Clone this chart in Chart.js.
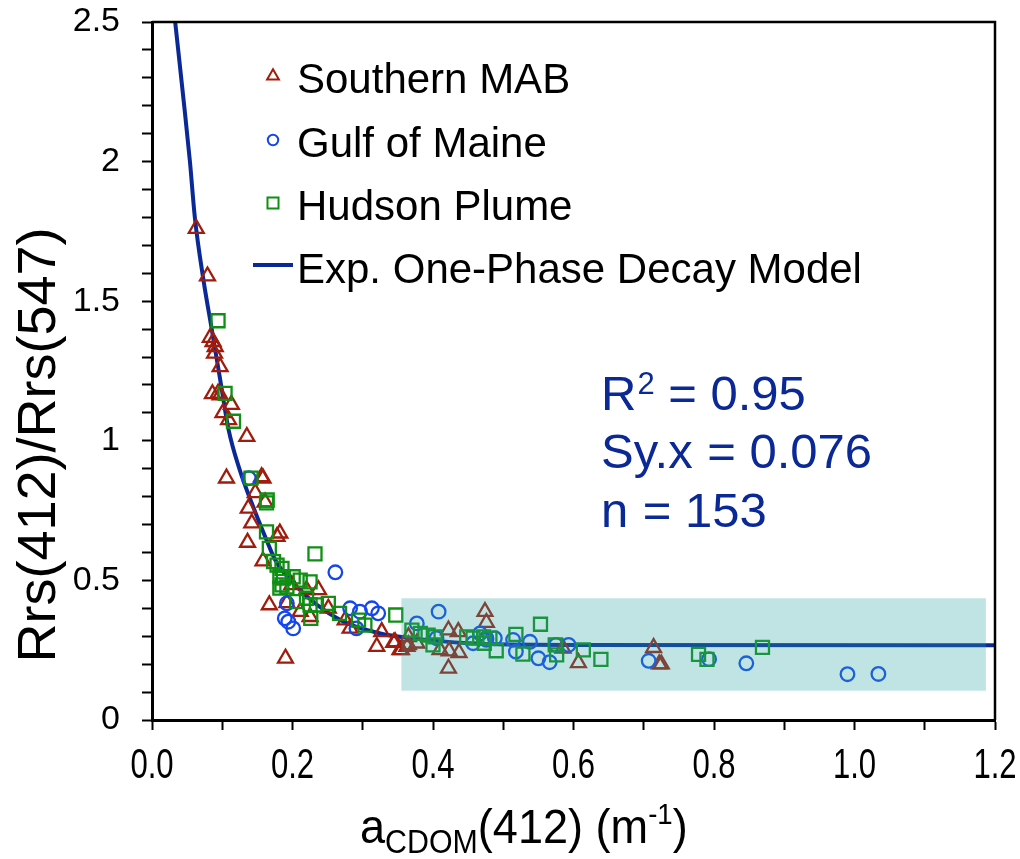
<!DOCTYPE html>
<html>
<head>
<meta charset="utf-8">
<script src="https://cdn.jsdelivr.net/npm/chart.js@4.4.1/dist/chart.umd.min.js"></script>
<style>
  html, body { margin: 0; padding: 0; background: #fff; }
  #wrap { width: 1020px; height: 859px; }
</style>
</head>
<body>
<div id="wrap"><canvas id="chart" width="1020" height="859"></canvas></div>
<script>
// datos: [aCDOM(412), Rrs(412)/Rrs(547)]
const southernMAB = [
  [0.063, 1.76], [0.079, 1.59], [0.083, 1.37], [0.087, 1.355], [0.090, 1.337], [0.089, 1.313],
  [0.097, 1.265], [0.086, 1.168], [0.094, 1.17], [0.097, 1.164], [0.113, 1.13], [0.101, 1.10],
  [0.109, 1.075], [0.135, 1.015], [0.106, 0.866], [0.156, 0.871], [0.158, 0.866], [0.147, 0.814],
  [0.161, 0.78], [0.137, 0.758], [0.142, 0.705], [0.182, 0.669], [0.178, 0.657], [0.136, 0.636],
  [0.158, 0.569], [0.220, 0.466], [0.237, 0.466], [0.199, 0.484], [0.167, 0.412], [0.211, 0.388],
  [0.192, 0.42], [0.225, 0.37], [0.190, 0.221], [0.251, 0.400], [0.275, 0.358], [0.282, 0.328],
  [0.327, 0.316], [0.320, 0.263], [0.344, 0.277], [0.355, 0.251], [0.365, 0.269], [0.474, 0.388],
  [0.476, 0.349], [0.422, 0.322], [0.436, 0.316], [0.365, 0.298], [0.346, 0.28], [0.353, 0.251],
  [0.363, 0.263], [0.377, 0.275], [0.410, 0.251], [0.423, 0.247], [0.437, 0.241], [0.422, 0.185],
  [0.585, 0.257], [0.607, 0.205], [0.714, 0.259], [0.722, 0.2], [0.725, 0.2]
]
const gulfOfMaine = [
  [0.138, 0.866], [0.261, 0.529], [0.192, 0.418], [0.189, 0.364], [0.194, 0.352], [0.201, 0.328],
  [0.282, 0.400], [0.296, 0.388], [0.313, 0.400], [0.322, 0.382], [0.291, 0.328], [0.408, 0.388],
  [0.377, 0.346], [0.405, 0.293], [0.457, 0.275], [0.467, 0.31], [0.476, 0.293], [0.488, 0.293],
  [0.476, 0.287], [0.514, 0.287], [0.538, 0.280], [0.518, 0.245], [0.550, 0.221], [0.566, 0.207],
  [0.575, 0.269], [0.593, 0.269], [0.707, 0.212], [0.793, 0.218], [0.846, 0.203], [0.990, 0.164],
  [1.034, 0.165]
]
const hudsonPlume = [
  [0.094, 1.43], [0.104, 1.17], [0.116, 1.07], [0.141, 0.866], [0.164, 0.788], [0.163, 0.778],
  [0.163, 0.674], [0.167, 0.615], [0.232, 0.595], [0.173, 0.567], [0.178, 0.555], [0.185, 0.543],
  [0.182, 0.513], [0.187, 0.508], [0.185, 0.484], [0.201, 0.513], [0.211, 0.501], [0.225, 0.495],
  [0.182, 0.472], [0.192, 0.477], [0.206, 0.424], [0.220, 0.436], [0.225, 0.412], [0.234, 0.412],
  [0.251, 0.418], [0.226, 0.364], [0.267, 0.382], [0.294, 0.358], [0.303, 0.340], [0.347, 0.376],
  [0.370, 0.322], [0.382, 0.31], [0.393, 0.304], [0.403, 0.298], [0.400, 0.269], [0.448, 0.298],
  [0.457, 0.293], [0.472, 0.298], [0.481, 0.293], [0.473, 0.275], [0.490, 0.248], [0.518, 0.307],
  [0.528, 0.236], [0.553, 0.343], [0.574, 0.269], [0.576, 0.233], [0.614, 0.251], [0.639, 0.217],
  [0.778, 0.235], [0.790, 0.217], [0.869, 0.26]
]
// curva del modelo
const decayModel = [
  [0.033, 2.5], [0.045, 2.22], [0.054, 2.0], [0.061, 1.80], [0.073, 1.58], [0.085, 1.40],
  [0.097, 1.22], [0.109, 1.04], [0.125, 0.895], [0.144, 0.764], [0.163, 0.645], [0.175, 0.575],
  [0.206, 0.477], [0.268, 0.358], [0.325, 0.31], [0.363, 0.295], [0.45, 0.275], [0.6, 0.269],
  [1.2, 0.268]
]
const seriesNames = ['Southern MAB', 'Gulf of Maine', 'Hudson Plume', 'Exp. One-Phase Decay Model']
const xTickValues = [0, 0.2, 0.4, 0.6, 0.8, 1.0, 1.2]
const xTickLabels = ['0.0', '0.2', '0.4', '0.6', '0.8', '1.0', '1.2']
const yTickLabels = ['0', '0.5', '1', '1.5', '2', '2.5']
const statLines = [['R', '2', ' = 0.95'], ['Sy.x', '', ' = 0.076'], ['n', '', ' = 153']]
const boxRange = { xMin: 0.355, xMax: 1.187, yMin: 0.105, yMax: 0.436 }

const rojo = '#a01c0c'
const azul = '#1446f0'
const verde = '#0f8f14'
const marino = '#0a2896'
const fuente = "'Liberation Sans', Arial, sans-serif"

const toXY = (arr) => arr.map(([x, y]) => ({ x, y }))

function marcador(ctx, estilo, x, y, r) {
    ctx.beginPath()
    if (estilo === 'triangle') {
        ctx.moveTo(x, y - r)
        ctx.lineTo(x + 0.866 * r, y + 0.5 * r)
        ctx.lineTo(x - 0.866 * r, y + 0.5 * r)
        ctx.closePath()
    } else if (estilo === 'circle') {
        ctx.arc(x, y, r, 0, Math.PI * 2)
    } else {
        const s = r * Math.SQRT1_2
        ctx.rect(x - s, y - s, 2 * s, 2 * s)
    }
    ctx.stroke()
}

const extras = {
    id: 'extras',
    afterDatasetsDraw(chart) {
        const { ctx, scales: { x, y } } = chart
        // rectangulo sombreado
        ctx.save()
        ctx.fillStyle = 'rgba(45,165,165,0.3)'
        const x0 = x.getPixelForValue(boxRange.xMin), x1 = x.getPixelForValue(boxRange.xMax)
        const y0 = y.getPixelForValue(boxRange.yMax), y1 = y.getPixelForValue(boxRange.yMin)
        ctx.fillRect(x0, y0, x1 - x0, y1 - y0)
        ctx.restore()
    },
    afterDraw(chart) {
        const { ctx, chartArea: a, scales: { x } } = chart
        ctx.save()
        // marco superior y derecho
        ctx.strokeStyle = '#000'
        ctx.lineWidth = 2.5
        ctx.beginPath()
        ctx.moveTo(a.left, a.top)
        ctx.lineTo(a.right, a.top)
        ctx.lineTo(a.right, a.bottom)
        ctx.stroke()

        // etiquetas eje x (letra estrecha)
        ctx.fillStyle = '#000'
        ctx.textAlign = 'center'
        ctx.textBaseline = 'alphabetic'
        xTickValues.forEach((v, i) => {
            ctx.save()
            ctx.translate(x.getPixelForValue(v), a.bottom + 58)
            ctx.scale(0.74, 1)
            ctx.font = '42px ' + fuente
            ctx.fillText(xTickLabels[i], 0, 0)
            ctx.restore()
        })

        // leyenda
        const estilos = ['triangle', 'circle', 'rect']
        const colores = [rojo, azul, verde]
        const radios = [6.8, 5.2, 7.8]
        const base = [93, 157, 220, 283]
        ctx.lineWidth = 2
        for (let i = 0; i < 3; i++) {
            ctx.strokeStyle = colores[i]
            marcador(ctx, estilos[i], 273, base[i] - 17, radios[i])
        }
        ctx.strokeStyle = marino
        ctx.lineWidth = 4
        ctx.beginPath()
        ctx.moveTo(253, 265)
        ctx.lineTo(293, 265)
        ctx.stroke()
        ctx.font = '42px ' + fuente
        ctx.textAlign = 'left'
        seriesNames.forEach((n, i) => ctx.fillText(n, 297, base[i]))

        // estadisticos
        ctx.fillStyle = marino
        const sb = [410, 468, 527]
        statLines.forEach((l, i) => {
            let px = 601
            ctx.font = '49px ' + fuente
            ctx.fillText(l[0], px, sb[i])
            px += ctx.measureText(l[0]).width + 1
            if (l[1]) {
                ctx.font = '31px ' + fuente
                ctx.fillText(l[1], px, sb[i] - 16)
                px += ctx.measureText(l[1]).width
            }
            ctx.font = '49px ' + fuente
            ctx.fillText(l[2], px, sb[i])
        })

        // titulo eje y
        ctx.fillStyle = '#000'
        ctx.save()
        ctx.translate(40, 445)
        ctx.rotate(-Math.PI / 2)
        ctx.textAlign = 'center'
        ctx.textBaseline = 'middle'
        ctx.font = '54px ' + fuente
        ctx.fillText('Rrs(412)/Rrs(547)', 0, 0)
        ctx.restore()

        // titulo eje x con subindice y superindice
        const partes = [
            ['a', 49, 0], ['CDOM', 33, 10], ['(412) (m', 49, 0], ['-1', 30, -19], [')', 49, 0]
        ]
        ctx.save()
        ctx.translate(360, 843)
        ctx.scale(0.92, 1)
        let tx = 0
        partes.forEach(([t, s, dy]) => {
            ctx.font = s + 'px ' + fuente
            ctx.fillText(t, tx, dy)
            tx += ctx.measureText(t).width
        })
        ctx.restore()
        ctx.restore()
    }
}

const grafico = document.getElementById('chart').getContext('2d')
new Chart(grafico, {
    type: 'scatter',
    data: {
        datasets: [
            {
                label: seriesNames[2], data: toXY(hudsonPlume), pointStyle: 'rect', pointRadius: 9.2,
                borderColor: verde, backgroundColor: 'rgba(0,0,0,0)', borderWidth: 2.3, order: 0,
            },
            {
                label: seriesNames[1], data: toXY(gulfOfMaine), pointStyle: 'circle', pointRadius: 6.8,
                borderColor: azul, backgroundColor: 'rgba(0,0,0,0)', borderWidth: 2.3, order: 1,
            },
            {
                label: seriesNames[0], data: toXY(southernMAB), pointStyle: 'triangle', pointRadius: 8.6,
                borderColor: rojo, backgroundColor: 'rgba(0,0,0,0)', borderWidth: 2.3, order: 2,
            },
            {
                label: seriesNames[3], data: toXY(decayModel), showLine: true, pointRadius: 0,
                borderColor: marino, borderWidth: 4, cubicInterpolationMode: 'monotone', order: 3,
            },
        ],
    },
    options: {
        responsive: false,
        animation: false,
        devicePixelRatio: 1,
        layout: { padding: { left: 0, right: 25, top: 22, bottom: 0 } },
        plugins: { legend: { display: false }, tooltip: { enabled: false } },
        scales: {
            x: {
                type: 'linear', min: 0, max: 1.2,
                ticks: { stepSize: 0.1, autoSkip: false, display: false },
                grid: { drawOnChartArea: false, tickLength: 10, tickColor: '#000', tickWidth: 2 },
                border: { color: '#000', width: 3 },
                afterFit: (s) => { s.height = 139; s.paddingLeft = 0; s.paddingRight = 0 },
            },
            y: {
                min: 0, max: 2.5,
                ticks: {
                    stepSize: 0.1, autoSkip: false, padding: 22, color: '#000',
                    font: { family: fuente, size: 34 },
                    callback: (v) => {
                        const k = Math.round(v * 2)
                        return Math.abs(v * 2 - k) < 1e-6 ? yTickLabels[k] : ''
                    },
                },
                grid: { drawOnChartArea: false, tickLength: 10, tickColor: '#000', tickWidth: 2 },
                border: { color: '#000', width: 3 },
                afterFit: (s) => { s.width = 152; s.paddingTop = 0; s.paddingBottom = 0 },
            },
        },
    },
    plugins: [extras],
})
</script>
</body>
</html>
